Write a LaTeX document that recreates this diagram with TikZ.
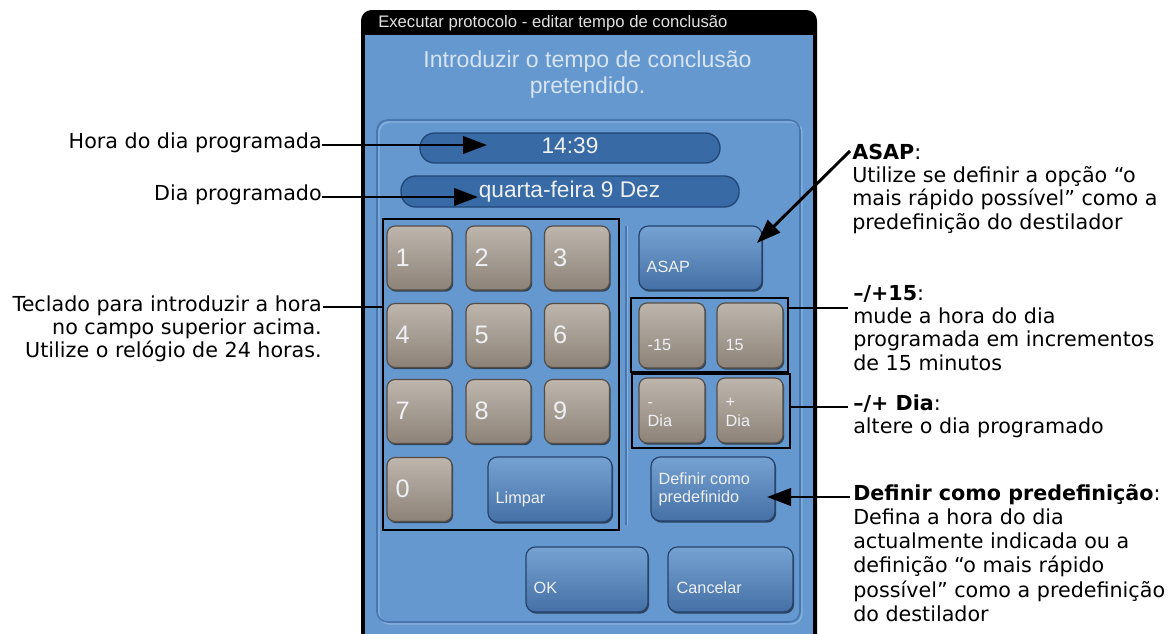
\documentclass[tikz,border=0pt]{standalone}
\usepackage{fontspec}
\setmainfont{DejaVu Sans}
\newfontfamily\uifont{Liberation Sans}
\usetikzlibrary{arrows.meta,shadows,calc}

% one screen pixel
\newcommand\pxl{0.75pt}
% block of lines, first baseline on the node's base anchor
\newcommand\blk[2]{\begin{tabular}[t]{@{}#1@{}}#2\end{tabular}}

\definecolor{screenblue}{RGB}{101,152,206}
\definecolor{paneledge}{RGB}{72,118,175}
\definecolor{panellight}{RGB}{135,178,222}
\definecolor{fieldfill}{RGB}{56,106,166}
\definecolor{fieldedge}{RGB}{34,70,118}
\definecolor{keytop}{RGB}{190,182,173}
\definecolor{keybot}{RGB}{140,130,120}
\definecolor{keyedge}{RGB}{86,78,70}
\definecolor{btntop}{RGB}{118,162,210}
\definecolor{btnbot}{RGB}{68,112,166}
\definecolor{btnedge}{RGB}{36,66,108}
\definecolor{uitext}{RGB}{238,240,244}
\definecolor{headtext}{RGB}{214,228,244}
\definecolor{titletext}{RGB}{225,225,225}

\begin{document}
\begin{tikzpicture}[x=0.75pt,y=-0.75pt,
  annot/.style={inner sep=0pt, text=black, font=\fontsize{15.5}{17.5}\selectfont},
  lead/.style={line width=2.2pt, draw=black},
  leadarrow/.style={lead, -{Triangle[length=18pt,width=13pt]}},
  markbox/.style={draw=black, line width=2.2pt, inner sep=0pt},
  key/.style={rounded corners=6pt, draw=keyedge, line width=0.9pt,
    top color=keytop, bottom color=keybot, inner sep=0pt,
    drop shadow={shadow xshift=0.9pt, shadow yshift=-1.3pt, opacity=0.55, fill=black}},
  btn/.style={rounded corners=7pt, draw=btnedge, line width=0.9pt,
    top color=btntop, bottom color=btnbot, inner sep=0pt,
    drop shadow={shadow xshift=0.9pt, shadow yshift=-1.3pt, opacity=0.55, fill=black}},
  field/.style={rounded corners=11pt, fill=fieldfill, draw=fieldedge, line width=1pt, inner sep=0pt},
  fieldtxt/.style={inner sep=0pt, text=uitext, font=\uifont\fontsize{17}{19}\selectfont},
  keynum/.style={inner sep=0pt, anchor=base west, text=uitext, font=\uifont\fontsize{19}{20}\selectfont},
  btnlbl/.style={inner sep=0pt, anchor=base west, text=uitext, font=\uifont\fontsize{12.2}{13.5}\selectfont},
  btnlbltwo/.style={btnlbl, font=\uifont\fontsize{12.2}{14.5}\selectfont},
]
\useasboundingbox (0,0) rectangle (1171,633);
\fill[white] (0,0) rectangle (1171,633);

% window frame and title bar
\fill[black, rounded corners=8pt] (361,10) rectangle (817,680);
\fill[screenblue] (365,35) rectangle (813,680);
\node[inner sep=0pt, anchor=base west, text=titletext, font=\uifont\fontsize{12.5}{14}\selectfont]
  (title) at (378,27) {Executar protocolo - editar tempo de conclusão};

% heading
\node[inner sep=0pt, anchor=base, text=headtext, font=\uifont\fontsize{17.3}{19.5}\selectfont]
  (heading) at (587.5,67) {\blk{c}{Introduzir o tempo de conclusão\\pretendido.}};

% inner panel and separator
\draw[panellight, line width=1pt, rounded corners=8pt] (379,122) rectangle (802,624);
\draw[paneledge, line width=1.2pt, rounded corners=8pt] (377,120) rectangle (800,622);
\draw[panellight, line width=0.8pt] (627.5,226) -- (627.5,525);
\draw[paneledge, line width=0.9pt] (626,226) -- (626,525);

% time and day fields
\node[field, minimum width=300*\pxl, minimum height=30*\pxl] (timef) at (570,148) {};
\node[fieldtxt, anchor=base] (timetxt) at (570,153) {14:39};
\node[field, minimum width=338*\pxl, minimum height=31*\pxl] (dayf) at (570,191.5) {};
\node[fieldtxt, anchor=base] (daytxt) at (569.5,197) {quarta-feira 9 Dez};

% numeric keypad
\foreach \n/\cx/\cy in {1/419.5/258, 2/498.5/258, 3/577/258,
                        4/419.5/335.5, 5/498.5/335.5, 6/577/335.5,
                        7/419.5/411.5, 8/498.5/411.5, 9/577/411.5,
                        0/419.5/489.5}{
  \node[key, minimum width=65*\pxl, minimum height=64*\pxl] (key\n) at (\cx,\cy) {};
  \node[keynum] (key\n lbl) at ($(key\n.north west)+(9,41)$) {\n};
}
\node[btn, minimum width=124*\pxl, minimum height=65*\pxl] (clear) at (550,489.5) {};
\node[btnlbl] (clearlbl) at ($(clear.north west)+(8,47)$) {Limpar};

% right-hand buttons
\node[btn, minimum width=123*\pxl, minimum height=64*\pxl] (asap) at (700.5,258) {};
\node[btnlbl] (asaplbltxt) at ($(asap.north west)+(8,47)$) {ASAP};
\node[key, minimum width=66*\pxl, minimum height=65*\pxl] (minusq) at (672,335.5) {};
\node[btnlbl] (minusqlbl) at ($(minusq.north west)+(9,48)$) {-15};
\node[key, minimum width=66*\pxl, minimum height=65*\pxl] (plusq) at (750,335.5) {};
\node[btnlbl] (plusqlbl) at ($(plusq.north west)+(9,48)$) {15};
\node[key, minimum width=66*\pxl, minimum height=65*\pxl] (minusday) at (672,410.5) {};
\node[btnlbltwo] (minusdaylbl) at ($(minusday.north west)+(9,30)$) {\blk{l}{-\\Dia}};
\node[key, minimum width=66*\pxl, minimum height=65*\pxl] (plusday) at (750,410.5) {};
\node[btnlbltwo] (plusdaylbl) at ($(plusday.north west)+(9,30)$) {\blk{l}{+\\Dia}};
\node[btn, minimum width=124*\pxl, minimum height=64*\pxl] (setdef) at (713,489) {};
\node[btnlbl] (setdeflbltxt) at ($(setdef.north west)+(8,28)$) {\blk{l}{Definir como\\predefinido}};
\node[btn, minimum width=122*\pxl, minimum height=65*\pxl] (ok) at (587,579.5) {};
\node[btnlbl] (oklbl) at ($(ok.north west)+(8,47)$) {OK};
\node[btn, minimum width=125*\pxl, minimum height=65*\pxl] (cancel) at (730.5,579.5) {};
\node[btnlbl] (cancellbl) at ($(cancel.north west)+(9,47)$) {Cancelar};

% callout frames
\node[markbox, minimum width=236*\pxl, minimum height=311*\pxl] (keybox) at (501,374.5) {};
\node[markbox, minimum width=157*\pxl, minimum height=74*\pxl] (qbox) at (709.5,335) {};
\node[markbox, minimum width=158*\pxl, minimum height=74*\pxl] (daybox) at (711,411) {};

% callout texts, left
\node[annot, anchor=base east] (horanote) at (322,148) {Hora do dia programada};
\node[annot, anchor=base east] (dianote) at (322,200) {Dia programado};
\node[annot, anchor=base east] (keynote) at (322,311)
  {\blk{r}{Teclado para introduzir a hora\\no campo superior acima.\\Utilize o relógio de 24 horas.}};

% callout texts, right
\node[annot, anchor=base west] (asapnote) at (852,159)
  {\blk{l}{\textbf{ASAP}:\\Utilize se definir a opção “o\\mais rápido possível” como a\\predefinição do destilador}};
\node[annot, anchor=base west] (qnote) at (853,300)
  {\blk{l}{\textbf{–/+15}:\\mude a hora do dia\\programada em incrementos\\de 15 minutos}};
\node[annot, anchor=base west] (daynote) at (853,410)
  {\blk{l}{\textbf{–/+ Dia}:\\altere o dia programado}};
\node[annot, anchor=base west, font=\fontsize{15.5}{18.2}\selectfont] (setdefnote) at (853,500)
  {\blk{l}{\textbf{Definir como predefinição}:\\Defina a hora do dia\\actualmente indicada ou a\\definição “o mais rápido\\possível” como a predefinição\\do destilador}};

% leader lines
\coordinate (horatip) at (487,145);
\coordinate (diatip) at (478,197);
\coordinate (keyjoin) at ($(keynote.base east)+(1,-4)$);
\coordinate (asapstart) at ($(asapnote.base west)+(-2,-8)$);
\coordinate (asaptip) at (757,243);
\coordinate (qjoin) at ($(qnote.base west)+(-5,8)$);
\coordinate (dayjoin) at ($(daynote.base west)+(-5,-3)$);
\coordinate (setdefjoin) at ($(setdefnote.base west)+(-3,-3)$);
\coordinate (setdeftip) at (767,497);

\draw[leadarrow] (horatip -| horanote.east) -- (horatip);
\draw[leadarrow] (diatip -| dianote.east) -- (diatip);
\draw[lead] (keyjoin) -- (keyjoin -| keybox.west);
\draw[leadarrow] (asapstart) -- (asaptip);
\draw[lead] (qjoin) -- (qjoin -| qbox.east);
\draw[lead] (dayjoin) -- (dayjoin -| daybox.east);
\draw[leadarrow] (setdefjoin) -- (setdeftip);
\end{tikzpicture}
\end{document}
